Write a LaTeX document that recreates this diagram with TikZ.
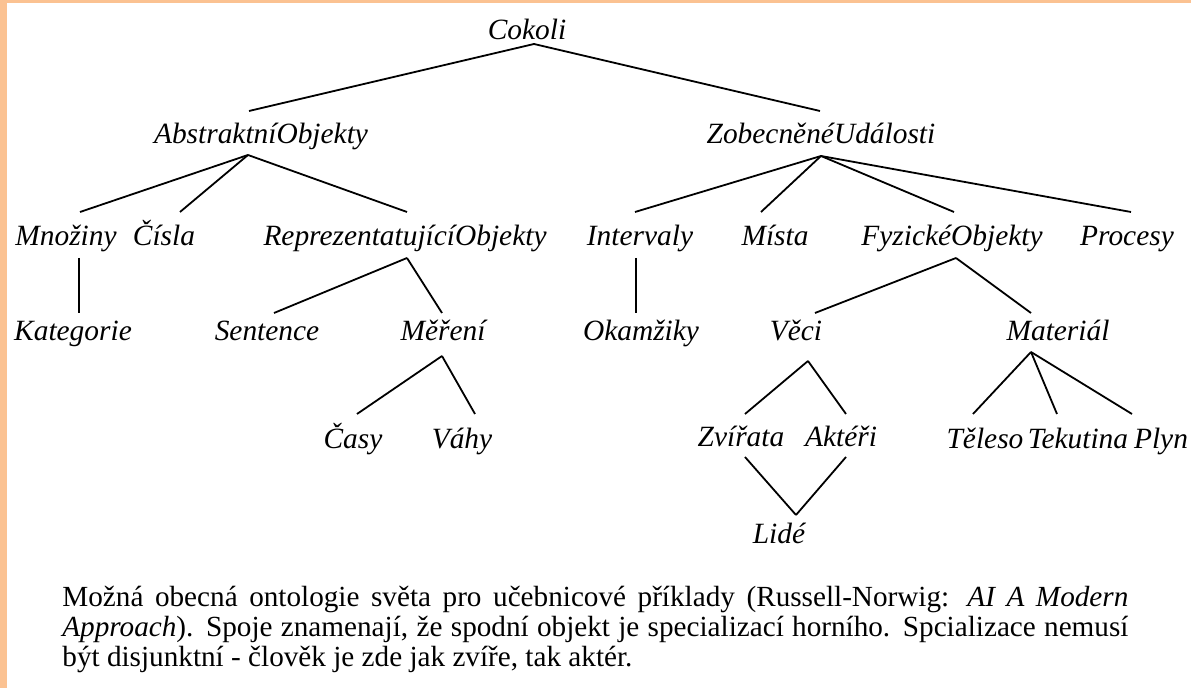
\documentclass[tikz,border=0pt]{standalone}
\usepackage{fontspec}
\setmainfont{Liberation Serif}
\definecolor{framecol}{RGB}{251,194,146}
\newcommand\edgeline[4]{\draw[edge] ([shift={#2}]#1.base) -- ([shift={#4}]#3.base);}
\begin{document}
\begin{tikzpicture}[x=0.5pt,y=-0.5pt,
  lbl/.style={anchor=base,inner sep=0pt,font=\fontsize{14.7}{17}\selectfont\itshape},
  edge/.style={line width=0.9pt,black}]
\useasboundingbox (0,0) rectangle (1191,688);
\fill[white] (0,0) rectangle (1191,688);
\fill[framecol] (0,0) rectangle (1191,3);
\fill[framecol] (0,0) rectangle (7,688);

% level 1
\node[lbl] (cokoli) at (527,40) {Cokoli};
% level 2
\node[lbl] (abs) at (261,144) {AbstraktníObjekty};
\node[lbl] (zob) at (821,144) {ZobecněnéUdálosti};
% level 3
\node[lbl] (mno) at (66,246) {Množiny};
\node[lbl] (cis) at (164,246) {Čísla};
\node[lbl] (rep) at (405,246) {ReprezentatujícíObjekty};
\node[lbl] (int) at (640,246) {Intervaly};
\node[lbl] (mis) at (775,246) {Místa};
\node[lbl] (fyz) at (952,246) {FyzickéObjekty};
\node[lbl] (pro) at (1127,246) {Procesy};
% level 4
\node[lbl] (kat) at (73,341) {Kategorie};
\node[lbl] (sen) at (267,341) {Sentence};
\node[lbl] (mer) at (443,341) {Měření};
\node[lbl] (oka) at (641,341) {Okamžiky};
\node[lbl] (vec) at (796,341) {Věci};
\node[lbl] (mat) at (1058,341) {Materiál};
% level 5
\node[lbl] (cas) at (353,449) {Časy};
\node[lbl] (vah) at (462,449) {Váhy};
\node[lbl] (zvi) at (741,447) {Zvířata};
\node[lbl] (akt) at (841,447) {Aktéři};
\node[lbl] (tel) at (985,449) {Těleso};
\node[lbl] (tek) at (1078,449) {Tekutina};
\node[lbl] (ply) at (1161,449) {Plyn};
% level 6
\node[lbl] (lid) at (779,544) {Lidé};

% connectors
\edgeline{cokoli}{(7,4)}{abs}{(-12,-33)}
\edgeline{cokoli}{(7,4)}{zob}{(-1,-33)}
\edgeline{abs}{(-13,11)}{mno}{(14,-34)}
\edgeline{abs}{(-13,11)}{cis}{(16,-34)}
\edgeline{abs}{(-13,11)}{rep}{(2,-34)}
\edgeline{zob}{(0,12)}{int}{(-5,-34)}
\edgeline{zob}{(0,12)}{mis}{(-14,-34)}
\edgeline{zob}{(0,12)}{fyz}{(2,-34)}
\edgeline{zob}{(0,12)}{pro}{(4,-34)}
\edgeline{mno}{(13,12)}{kat}{(6,-28)}
\edgeline{rep}{(2,12)}{sen}{(7,-28)}
\edgeline{rep}{(2,12)}{mer}{(-1,-28)}
\edgeline{int}{(-4,12)}{oka}{(-5,-28)}
\edgeline{fyz}{(4,12)}{vec}{(19,-28)}
\edgeline{fyz}{(4,12)}{mat}{(-27,-28)}
\edgeline{mer}{(-1,15)}{cas}{(4,-35)}
\edgeline{mer}{(-1,15)}{vah}{(13,-35)}
\edgeline{vec}{(12,20)}{zvi}{(4,-33)}
\edgeline{vec}{(12,20)}{akt}{(5,-33)}
\edgeline{mat}{(-27,11)}{tel}{(-12,-35)}
\edgeline{mat}{(-27,11)}{tek}{(-21,-35)}
\edgeline{mat}{(-27,11)}{ply}{(-29,-35)}
\edgeline{zvi}{(4,10)}{lid}{(17,-29)}
\edgeline{akt}{(5,10)}{lid}{(17,-29)}

% caption
\node[anchor=base west,inner sep=0pt,text width=533pt,align=justify,
  font=\fontsize{14.6}{14.8}\selectfont] (cap) at (62,607)
  {\hyphenpenalty=10000 Možná obecná ontologie světa pro učebnicové příklady (Russell-Norwig: \textit{AI A Modern}\linebreak
  \textit{Approach}). Spoje znamenají, že spodní objekt je specializací horního. Spcializace nemusí\linebreak
  být disjunktní - člověk je zde jak zvíře, tak aktér.};
\end{tikzpicture}
\end{document}
